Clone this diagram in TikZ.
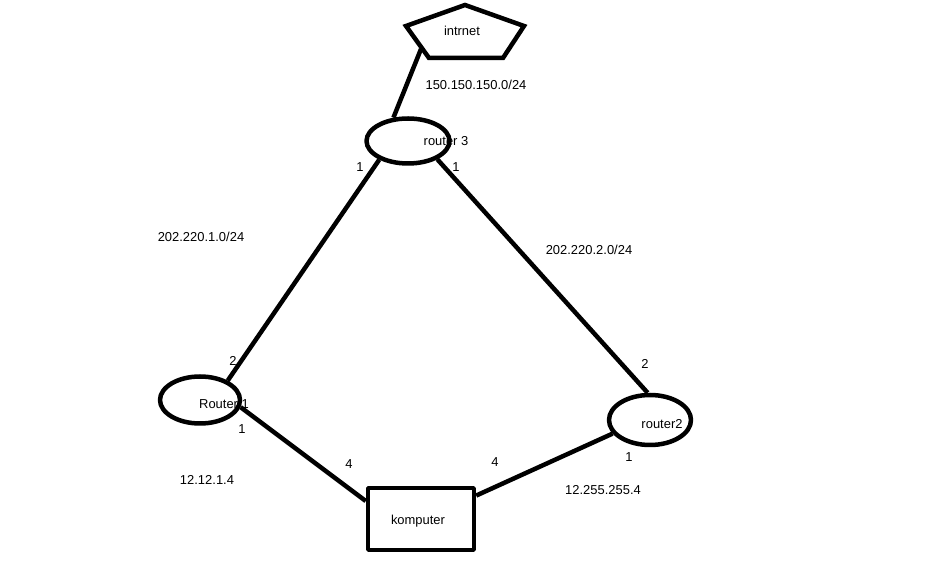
\documentclass[tikz,border=0pt]{standalone}
\usepackage{fontspec}
\setmainfont{Liberation Sans}
\usetikzlibrary{shapes.geometric}
\begin{document}
\begin{tikzpicture}[line join=bevel,
  router/.style={ellipse,draw,line width=4.5bp,inner sep=0pt},
  wire/.style={black,line width=4.5bp},
  lbl/.style={inner sep=0pt,font=\fontsize{13}{15}\selectfont}]
\useasboundingbox (0bp,0bp) rectangle (927bp,575bp);
\fill[white] (0bp,0bp) rectangle (927bp,575bp);
%%
\node (lbl_inet) at (462bp,544bp) [lbl] {intrnet};
\node (lbl_r3) at (446bp,434bp) [lbl] {router 3};
\node (lbl_r1) at (224bp,171bp) [lbl] {Router 1};
\node (lbl_r2) at (662bp,151bp) [lbl] {router2};
\node (lbl_k) at (418bp,54bp) [lbl] {komputer};
%
\draw [wire,line join=miter] (465bp,570bp) -- (524bp,549bp) -- (503bp,517bp) -- (429bp,517bp) -- (406bp,549bp) -- cycle;
\coordinate (inet_foot) at (421bp,526bp);
\node (r3) at (408bp,434bp) [router,minimum width=83bp,minimum height=45bp] {};
\node (r1) at (200bp,175bp) [router,minimum width=80bp,minimum height=47bp] {};
\node (r2) at (650bp,155bp) [router,minimum width=82bp,minimum height=50bp] {};
\node (k) at (421bp,56bp) [draw,line width=4.5bp,minimum width=106bp,minimum height=62bp] {};
%
\draw [wire] (inet_foot) -- (r3.122);
\draw [wire] (r3.213) -- (r1.35);
\draw [wire] (r3.328) -- (r2.95);
\draw [wire] (r1.350) -- (k.162);
\draw [wire] (k.23) -- (r2.200);
%
\node (net_inet) at (476bp,490bp) [lbl] {150.150.150.0/24};
\node (net_a) at (201bp,338bp) [lbl] {202.220.1.0/24};
\node (net_b) at (589bp,325bp) [lbl] {202.220.2.0/24};
\node (net_c) at (207bp,95bp) [lbl] {12.12.1.4};
\node (net_d) at (603bp,85bp) [lbl] {12.255.255.4};
%
\node (p_r3a) at (360bp,408bp) [lbl] {1};
\node (p_r3b) at (456bp,408bp) [lbl] {1};
\node (p_r1a) at (233bp,214bp) [lbl] {2};
\node (p_r1b) at (242bp,146bp) [lbl] {1};
\node (p_ka) at (349bp,111bp) [lbl] {4};
\node (p_kb) at (495bp,113bp) [lbl] {4};
\node (p_r2a) at (645bp,211bp) [lbl] {2};
\node (p_r2b) at (629bp,118bp) [lbl] {1};
%
\end{tikzpicture}
\end{document}
